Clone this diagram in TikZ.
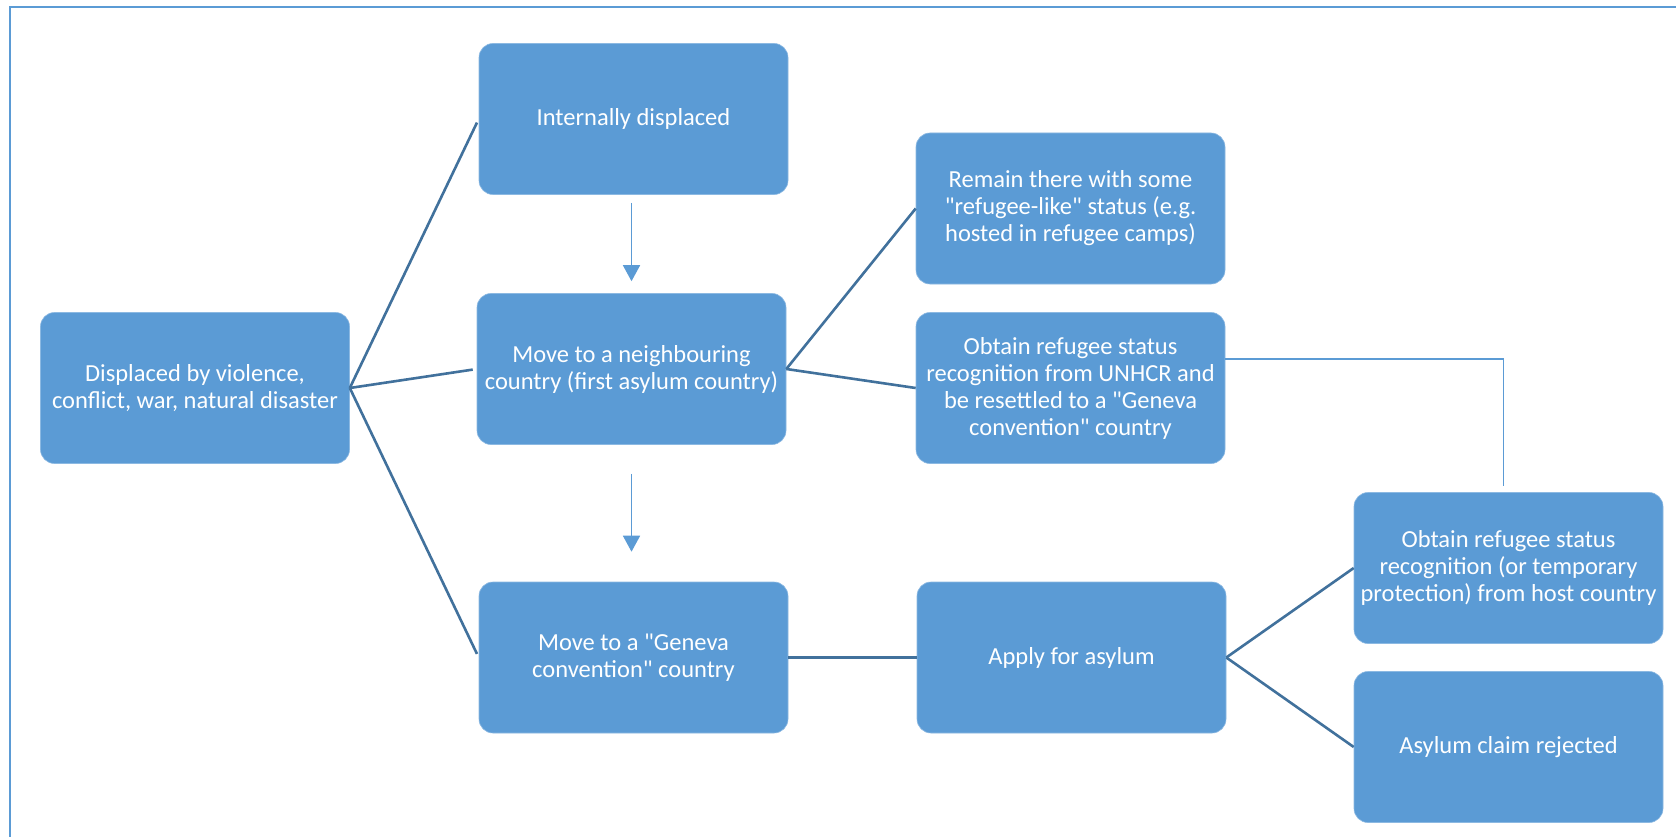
\documentclass[tikz,border=0pt]{standalone}
\usepackage{fontspec}
\setmainfont{Carlito}
\usetikzlibrary{arrows.meta,calc}
\definecolor{boxblue}{HTML}{5B9BD5}
\definecolor{darkline}{HTML}{41719C}
\definecolor{lightline}{HTML}{5B9BD5}
\newcommand{\dq}{\textquotedbl}
\tikzset{
  stepbox/.style={rectangle, rounded corners=14pt, fill=boxblue, draw=boxblue!70!white, line width=0.6pt,
    minimum width=309pt, minimum height=151pt, inner sep=4pt, align=center, text=white,
    font=\fontsize{24.5}{27}\selectfont},
  branch/.style={draw=darkline, line width=2.6pt},
  flowarrow/.style={draw=lightline, line width=1.6pt, -{Triangle[width=17pt,length=16pt]}},
  elbow/.style={draw=lightline, line width=1.6pt},
}
\begin{document}
\begin{tikzpicture}[x=1pt,y=-1pt]
\useasboundingbox (0,0) rectangle (1676,837);
\fill[white] (0,0) rectangle (1676,837);
\draw[lightline, line width=2.2pt] (10,837) -- (10,7) -- (1676,7);

\node[stepbox] (disp) at (195,388) {Displaced by violence,\\conflict, war, natural disaster};
\node[stepbox] (idp) at (633.5,119) {Internally displaced};
\node[stepbox] (nbr) at (631.5,369) {Move to a neighbouring\\country (first asylum country)};
\node[stepbox] (remain) at (1070.5,208.5) {Remain there with some\\\dq refugee-like\dq{} status (e.g.\\hosted in refugee camps)};
\node[stepbox] (unhcr) at (1070.5,388) {Obtain refugee status\\recognition from UNHCR and\\be resettled to a \dq Geneva\\convention\dq{} country};
\node[stepbox] (gen) at (633.5,657.5) {Move to a \dq Geneva\\convention\dq{} country};
\node[stepbox] (apply) at (1071.5,657.5) {Apply for asylum};
\node[stepbox] (host) at (1508.5,568) {Obtain refugee status\\recognition (or temporary\\protection) from host country};
\node[stepbox] (rej) at (1508.5,747) {Asylum claim rejected};

\draw[branch, shorten >=4pt] (disp.east) -- (idp.west);
\draw[branch, shorten >=4pt] (disp.east) -- (nbr.west);
\draw[branch, shorten >=4pt] (disp.east) -- (gen.west);
\draw[branch] (nbr.east) -- (remain.west);
\draw[branch] (nbr.east) -- (unhcr.west);
\draw[branch] (gen.east) -- (apply.west);
\draw[branch] (apply.east) -- (host.west);
\draw[branch] (apply.east) -- (rej.west);

\draw[flowarrow, shorten <=8pt, shorten >=12pt] (nbr.north |- idp.south) -- (nbr.north);
\draw[flowarrow, shorten <=29pt, shorten >=30pt] (nbr.south) -- (nbr.south |- gen.north);

\draw[elbow, shorten >=6pt] ([yshift=29pt]unhcr.east) -| ([xshift=-5pt]host.north);
\end{tikzpicture}
\end{document}
